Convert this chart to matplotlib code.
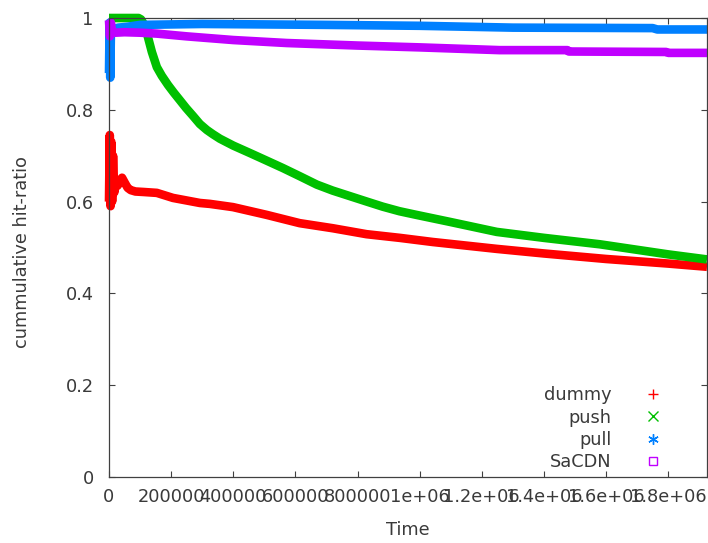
import matplotlib
matplotlib.use("Agg")
import matplotlib.pyplot as plt
from matplotlib.lines import Line2D

# ---- data -------------------------------------------------------------
dummy_x = [0, 2500, 5000, 7500, 10000, 13000, 17000, 22000, 28000, 35000,
           42000, 50000, 60000, 70000, 85000, 110000, 154000, 206000,
           292600, 325000, 399000, 508000, 614000, 720000, 829000, 936000,
           1042000, 1248000, 1400000, 1600000, 1800000, 1925000]
dummy_y = [0.60, 0.745, 0.59, 0.73, 0.60, 0.70, 0.62, 0.64, 0.635, 0.645,
           0.652, 0.642, 0.630, 0.625, 0.622, 0.621, 0.619, 0.608,
           0.597, 0.595, 0.588, 0.571, 0.553, 0.542, 0.529, 0.521,
           0.512, 0.497, 0.487, 0.475, 0.465, 0.458]

push_x = [0, 95000, 103000, 112000, 122000, 138000, 154000, 170000, 190000,
          209000, 228000, 248000, 270000, 292600, 315000, 334000, 357000,
          400000, 453000, 505000, 560000, 615000, 669000, 720000, 775000,
          830000, 881000, 935000, 990000, 1096000, 1248000, 1400000,
          1580000, 1800000, 1925000]
push_y = [1.0, 1.0, 0.997, 0.987, 0.967, 0.926, 0.893, 0.874, 0.854,
          0.837, 0.821, 0.804, 0.787, 0.769, 0.756, 0.747, 0.737,
          0.722, 0.706, 0.690, 0.673, 0.655, 0.637, 0.624, 0.612,
          0.600, 0.589, 0.579, 0.571, 0.556, 0.534, 0.521,
          0.507, 0.485, 0.474]

pull_x = [0, 2000, 4000, 6000, 9000, 15000, 30000, 60000, 100000, 300000,
          700000, 1000000, 1300000, 1750000, 1765000, 1925000]
pull_y = [0.88, 0.99, 0.87, 0.96, 0.975, 0.976, 0.979, 0.981, 0.985, 0.987,
          0.985, 0.983, 0.979, 0.978, 0.975, 0.975]

sacdn_x = [0, 3000, 6000, 10000, 20000, 50000, 100000, 154000, 250000,
           400000, 572000, 800000, 1000000, 1257000, 1476000, 1480000,
           1794000, 1800000, 1925000]
sacdn_y = [0.995, 0.96, 0.99, 0.97, 0.968, 0.969, 0.968, 0.966, 0.960,
           0.952, 0.9455, 0.940, 0.936, 0.930, 0.930, 0.927,
           0.926, 0.924, 0.924]

series_names = ["dummy", "push", "pull", "SaCDN"]
series_colors = ["#ff0000", "#00c000", "#0080ff", "#c000ff"]
series_markers = ["+", "x", (6, 2, 0), "s"]

x_ticks = [0, 200000, 400000, 600000, 800000, 1000000, 1200000, 1400000,
           1600000, 1800000]
x_tick_labels = ["0", "200000", "400000", "600000", "800000", "1e+06",
                 "1.2e+06", "1.4e+06", "1.6e+06", "1.8e+06"]
y_ticks = [0, 0.2, 0.4, 0.6, 0.8, 1.0]
y_tick_labels = ["0", "0.2", "0.4", "0.6", "0.8", "1"]

# ---- figure -----------------------------------------------------------
TXT = "#3a3a3a"
FS = 12.8
plt.rcParams["font.family"] = ["DejaVu Sans"]

fig = plt.figure(figsize=(7.08, 5.43), dpi=100)
ax = fig.add_axes([109 / 708, 1 - 477 / 543, 598 / 708, 459 / 543])

xs = [dummy_x, push_x, pull_x, sacdn_x]
ys = [dummy_y, push_y, pull_y, sacdn_y]
for x, y, c in zip(xs, ys, series_colors):
    ax.plot(x, y, color=c, lw=6.2, solid_capstyle="butt",
            solid_joinstyle="round", clip_on=False, zorder=2)

ax.set_xlim(0, 1925000)
ax.set_ylim(0, 1)
ax.set_xticks(x_ticks)
ax.set_xticklabels(x_tick_labels)
ax.set_yticks(y_ticks)
ax.set_yticklabels(y_tick_labels)

ax.tick_params(direction="in", length=4.5, width=0.8, color="#404040",
               top=True, right=True, labelsize=FS, labelcolor=TXT)
ax.tick_params(axis="x", pad=8)
ax.tick_params(axis="y", pad=11)
for s in ax.spines.values():
    s.set_color("#404040")
    s.set_linewidth(0.9)
    s.set_zorder(3)

ax.set_xlabel("Time", fontsize=FS, color=TXT)
ax.set_ylabel("cummulative hit-ratio", fontsize=FS, color=TXT)
ax.xaxis.set_label_coords(0.5, -0.096)
ax.yaxis.set_label_coords(-0.13, 0.49)

# key: right-aligned names followed by point symbols
handles = []
for name, c, m in zip(series_names, series_colors, series_markers):
    mfc = "none" if m == "s" else c
    ms = 6 if m == "s" else 7.5
    handles.append(Line2D([], [], ls="none", marker=m, color=c,
                          markerfacecolor=mfc, markersize=ms,
                          markeredgewidth=1.0, label=name))
leg = ax.legend(handles=handles, loc="lower right",
                bbox_to_anchor=(0.94, 0.012), frameon=False,
                markerfirst=False, fontsize=FS, labelspacing=0.25,
                handlelength=2.0, handletextpad=1.35, borderpad=0,
                borderaxespad=0, labelcolor=TXT)

fig.savefig("out.png", dpi=100)
